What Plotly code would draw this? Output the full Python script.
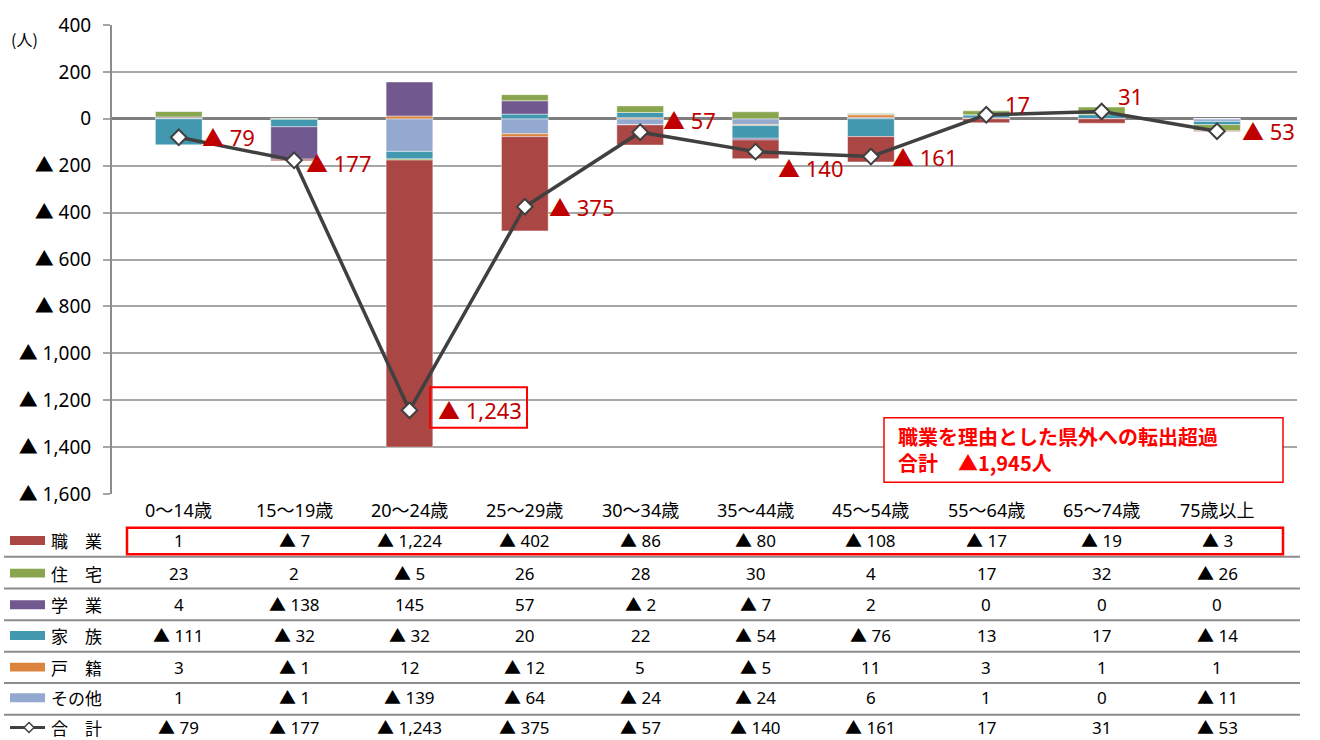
import plotly.graph_objects as go

# ---------------- data ----------------
categories = ["0〜14歳", "15〜19歳", "20〜24歳", "25〜29歳", "30〜34歳",
              "35〜44歳", "45〜54歳", "55〜64歳", "65〜74歳", "75歳以上"]
shokugyo = [1, -7, -1224, -402, -86, -80, -108, -17, -19, -3]     # 職業
jutaku   = [23, 2, -5, 26, 28, 30, 4, 17, 32, -26]                 # 住宅
gakugyo  = [4, -138, 145, 57, -2, -7, 2, 0, 0, 0]                  # 学業
kazoku   = [-111, -32, -32, 20, 22, -54, -76, 13, 17, -14]         # 家族
koseki   = [3, -1, 12, -12, 5, -5, 11, 3, 1, 1]                    # 戸籍
sonota   = [1, -1, -139, -64, -24, -24, 6, 1, 0, -11]              # その他
total    = [-79, -177, -1243, -375, -57, -140, -161, 17, 31, -53]  # 合計

y_tickvals = [400, 200, 0, -200, -400, -600, -800, -1000, -1200, -1400, -1600]
y_ticktext = ["400", "200", "0", "▲ 200", "▲ 400", "▲ 600", "▲ 800",
              "▲ 1,000", "▲ 1,200", "▲ 1,400", "▲ 1,600"]

row_names = ["職　業", "住　宅", "学　業", "家　族", "戸　籍", "その他", "合　計"]
note_text = "職業を理由とした県外への転出超過<br>合計　▲1,945人"

# ---------------- styles / layout ----------------
W, H = 1320, 740
L, R, T, B = 112, 1297, 20, 494   # plot area in pixels
FONT = "Noto Sans, Noto Sans CJK JP"
JFONT = "Noto Sans CJK JP"

colors = {
    "職業": "#AA4643", "住宅": "#89A54E", "学業": "#71588F",
    "家族": "#4198AF", "戸籍": "#DB843D", "その他": "#93A9CF",
}
RED_TXT = "#C00000"
RED_BOX = "#FF0000"
GRID = "#A6A6A6"
AXIS = "#8C8C8C"


def px(xp):
    return (xp - L) / (R - L)


def py(yp):
    return (B - yp) / (B - T)


def fmt(v):
    return "▲ {:,}".format(-v) if v < 0 else "{:,}".format(v)


fig = go.Figure()

# stacking order: first trace sits next to zero
stack = [("その他", sonota), ("戸籍", koseki), ("家族", kazoku),
         ("学業", gakugyo), ("住宅", jutaku), ("職業", shokugyo)]
for name, vals in stack:
    fig.add_trace(go.Bar(
        x=categories, y=vals, name=name,
        marker=dict(color=colors[name], line=dict(color="rgba(255,255,255,0.45)", width=1)),
        showlegend=False,
    ))

fig.add_trace(go.Scatter(
    x=categories, y=total, mode="lines+markers", name="合計",
    line=dict(color="#404040", width=3.5),
    marker=dict(symbol="diamond", size=12, color="white",
                line=dict(color="#404040", width=2)),
    showlegend=False,
))

annotations = []
shapes = []

# total labels next to the points
label_dx = [21, 10, 27, 22, 21, 20, 19, 17, 14, 23]
label_dy = [0, -3, 0, 0, 12, -16, 0, 11, 16, 0]
for i, (c, v) in enumerate(zip(categories, total)):
    annotations.append(dict(
        x=c, y=v, xref="x", yref="y", text=fmt(v), showarrow=False,
        xanchor="left", yanchor="middle", xshift=label_dx[i], yshift=label_dy[i],
        font=dict(family=FONT, size=22, color=RED_TXT),
    ))

# category labels
for c in categories:
    annotations.append(dict(
        x=c, y=py(510), xref="x", yref="paper", text=c, showarrow=False,
        xanchor="center", yanchor="middle",
        font=dict(family=FONT, size=18, color="black"),
    ))

# (人)
annotations.append(dict(
    x=px(24), y=py(34), xref="paper", yref="paper", text="(人)", showarrow=False,
    xanchor="center", yanchor="middle", font=dict(family=JFONT, size=16, color="black"),
))

# data table
row_series = [shokugyo, jutaku, gakugyo, kazoku, koseki, sonota, total]
row_y = [541, 574, 606, 637, 669, 700, 730]
row_colors = [colors["職業"], colors["住宅"], colors["学業"], colors["家族"],
              colors["戸籍"], colors["その他"], None]
for name, vals, yy, col in zip(row_names, row_series, row_y, row_colors):
    annotations.append(dict(
        x=px(49), y=py(yy), xref="paper", yref="paper", text=name, showarrow=False,
        xanchor="left", yanchor="middle", font=dict(family=JFONT, size=17, color="black"),
    ))
    for c, v in zip(categories, vals):
        annotations.append(dict(
            x=c, y=py(yy), xref="x", yref="paper", text=fmt(v), showarrow=False,
            xanchor="center", yanchor="middle", font=dict(family=FONT, size=17, color="black"),
        ))
    if col is not None:
        shapes.append(dict(type="rect", xref="paper", yref="paper",
                           x0=px(10), x1=px(45), y0=py(yy - 4.5), y1=py(yy + 4.5),
                           fillcolor=col, line=dict(width=0)))
    else:
        shapes.append(dict(type="line", xref="paper", yref="paper",
                           x0=px(10), x1=px(45), y0=py(yy), y1=py(yy),
                           line=dict(color="#404040", width=3)))
        d = 5
        cx, cy = 29, yy
        path = "M {} {} L {} {} L {} {} L {} {} Z".format(
            px(cx - d), py(cy), px(cx), py(cy - d), px(cx + d), py(cy), px(cx), py(cy + d))
        shapes.append(dict(type="path", xref="paper", yref="paper", path=path,
                           fillcolor="white", line=dict(color="#404040", width=1.5)))

for yy in [557.5, 589.5, 621.5, 653.5, 685, 717]:
    shapes.append(dict(type="line", xref="paper", yref="paper",
                       x0=px(4), x1=px(1300), y0=py(yy), y1=py(yy),
                       line=dict(color=AXIS, width=2)))

# red box around 職業 row
shapes.append(dict(type="rect", xref="paper", yref="paper",
                   x0=px(127), x1=px(1283), y0=py(555), y1=py(528),
                   line=dict(color=RED_BOX, width=2.5), fillcolor="rgba(0,0,0,0)"))

# red box around the 1,243 label
shapes.append(dict(type="rect", xref="paper", yref="paper",
                   x0=px(430), x1=px(527), y0=py(427), y1=py(386),
                   line=dict(color=RED_BOX, width=2), fillcolor="rgba(0,0,0,0)"))

# note box
shapes.append(dict(type="rect", xref="paper", yref="paper",
                   x0=px(884), x1=px(1283), y0=py(482), y1=py(417),
                   line=dict(color=RED_BOX, width=1.5), fillcolor="white", layer="above"))
annotations.append(dict(
    x=px(896), y=py(449), xref="paper", yref="paper", text=note_text, showarrow=False,
    xanchor="left", yanchor="middle", align="left",
    font=dict(family=JFONT, size=20, color=RED_BOX, weight="bold"),
))

fig.update_layout(
    width=W, height=H,
    margin=dict(l=L, r=W - R, t=T, b=H - B, pad=0),
    plot_bgcolor="white", paper_bgcolor="white",
    barmode="relative", bargap=0.595,
    annotations=annotations, shapes=shapes,
    showlegend=False,
    xaxis=dict(type="category", showticklabels=False, showgrid=False, zeroline=False,
               showline=False, ticks=""),
    yaxis=dict(range=[-1600, 400], tickvals=y_tickvals, ticktext=y_ticktext,
               tickfont=dict(family=FONT, size=19, color="black"),
               showgrid=True, gridcolor=GRID, gridwidth=1.5,
               zeroline=True, zerolinecolor="#7F7F7F", zerolinewidth=2.5,
               showline=True, linecolor=AXIS, linewidth=2,
               ticks="outside", ticklen=7, tickcolor=GRID, tickwidth=1.5,
               ticklabelstandoff=8),
)

fig.write_html(
    "out.html",
    config={"displayModeBar": False},
    post_script="document.body.style.margin='0';document.body.style.padding='0';"
                "document.body.style.overflow='hidden';",
)
